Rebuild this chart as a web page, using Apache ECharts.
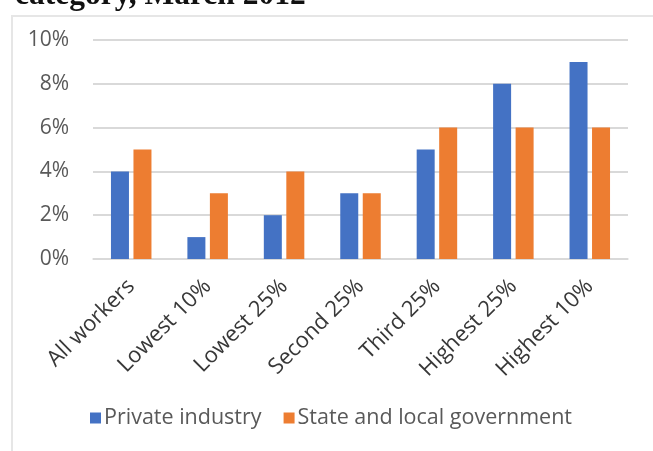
<!DOCTYPE html>
<html><head><meta charset="utf-8">
<script src="https://cdn.jsdelivr.net/npm/echarts@6/dist/echarts.min.js"></script>
<style>html,body{margin:0;padding:0;background:#fff}#c{width:653px;height:451px}</style>
</head><body><div id="c"></div>
<script>
const categories = ["All workers","Lowest 10%","Lowest 25%","Second 25%","Third 25%","Highest 25%","Highest 10%"];
const privateIndustry = [4,1,2,3,5,8,9];
const stateLocal = [5,3,4,3,6,6,6];
const yTicks = [0,2,4,6,8,10];
const titleText = "category, March 2012";

const chart = echarts.init(document.getElementById('c'));
const font = "'Open Sans', 'Noto Sans', sans-serif";
chart.setOption({
  animation:false,
  graphic:[
    {type:'rect', shape:{x:12,y:16,width:660,height:460}, style:{fill:'none', stroke:'#e6e6e6', lineWidth:2}, z:-1},
    {type:'text', left:15, top:-20, style:{text:titleText, font:"bold 31.5px 'Liberation Serif', serif", fill:'#111'}}
  ],
  legend:{
    bottom:17, left:85, itemWidth:11, itemHeight:11, itemGap:22,
    icon:'rect',
    textStyle:{fontFamily:font, fontSize:21.5, color:'#595959', padding:[0,0,0,-2]},
    data:['Private industry','State and local government']
  },
  grid:{left:93, right:25, top:40, bottom:192},
  xAxis:{
    type:'category', data:categories,
    axisLine:{lineStyle:{color:'#d9d9d9', width:1.5}},
    axisTick:{show:false},
    axisLabel:{rotate:45, interval:0, fontFamily:font, fontSize:22, color:'#383838', margin:24}
  },
  yAxis:{
    type:'value', min:0, max:10, interval:2,
    axisLabel:{formatter: v => v + '%', fontFamily:font, fontSize:21, color:'#595959', margin:24},
    splitLine:{lineStyle:{color:'#d9d9d9', width:2}},
    axisLine:{show:false}, axisTick:{show:false}
  },
  series:[
    {name:'Private industry', type:'bar', data:privateIndustry, barWidth:18, barGap:'25%', itemStyle:{color:'#4472C4'}},
    {name:'State and local government', type:'bar', data:stateLocal, barWidth:18, itemStyle:{color:'#ED7D31'}}
  ]
});
</script></body></html>
